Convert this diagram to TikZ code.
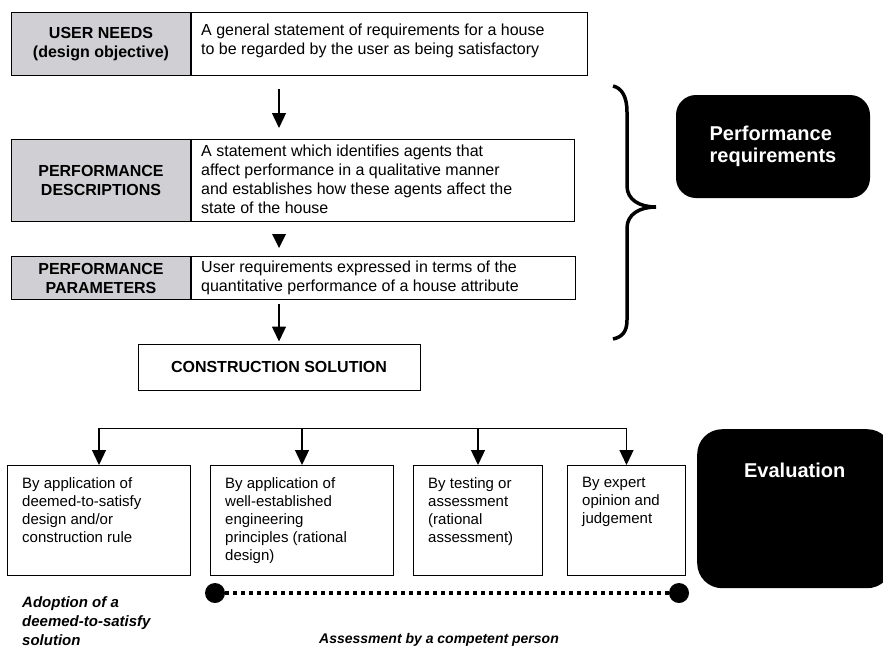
\documentclass[tikz,border=0pt]{standalone}
\usepackage{fontspec}
\setmainfont{Liberation Sans}
\usetikzlibrary{arrows.meta,calc,positioning}

\definecolor{cellgray}{RGB}{208,208,212}

\tikzset{
  graycell/.style={draw, line width=1pt, fill=cellgray, anchor=north west, inner sep=0pt,
    align=center, font=\bfseries\fontsize{16}{19}\selectfont},
  whitecell/.style={draw, line width=1pt, anchor=north west, inner sep=0pt},
  celltext/.style={anchor=west, inner sep=0pt, align=left, font=\fontsize{16}{19}\selectfont},
  choicebox/.style={draw, line width=1pt, anchor=north west, inner sep=0pt, minimum height=110pt},
  choicetext/.style={anchor=north west, inner sep=0pt, align=left, font=\fontsize{15}{18}\selectfont},
  blackbox/.style={fill=black, rounded corners=20pt, inner sep=0pt, text=white,
    font=\bfseries\fontsize{20}{22}\selectfont},
  flowarrow/.style={line width=1.3pt, -{Triangle[width=14pt,length=15pt]}},
  dotend/.style={circle, fill=black, minimum size=20pt, inner sep=0pt},
  italiclabel/.style={inner sep=0pt, align=left, font=\bfseries\itshape\fontsize{15}{19}\selectfont}
}

\begin{document}
\begin{tikzpicture}[x=1pt,y=-1pt]
\useasboundingbox (0,0) rectangle (883,648);

% the three definition rows
\node[graycell, minimum width=179pt, minimum height=63pt] (needs) at (11,12) {USER NEEDS\\(design objective)};
\node[whitecell, minimum width=396pt, minimum height=63pt] (needsbox) at (needs.north east) {};
\node[celltext] (needstext) at ([xshift=10pt,yshift=3pt]needsbox.west)
  {A general statement of requirements for a house\\to be regarded by the user as being satisfactory};

\node[graycell, minimum width=179pt, minimum height=82pt] (descr) at (11,139) {PERFORMANCE\\DESCRIPTIONS};
\node[whitecell, minimum width=383pt, minimum height=82pt] (descrbox) at (descr.north east) {};
\node[celltext] (descrtext) at ([xshift=10pt,yshift=1pt]descrbox.west)
  {A statement which identifies agents that\\affect performance in a qualitative manner\\and establishes how these agents affect the\\state of the house};

\node[graycell, minimum width=179pt, minimum height=43pt] (params) at (11,256) {PERFORMANCE\\PARAMETERS};
\node[whitecell, minimum width=384pt, minimum height=43pt] (paramsbox) at (params.north east) {};
\node[celltext] (paramstext) at ([xshift=10pt]paramsbox.west)
  {User requirements expressed in terms of the\\quantitative performance of a house attribute};

\node[draw, line width=1pt, minimum width=282pt, minimum height=46pt, inner sep=0pt,
  font=\bfseries\fontsize{16}{19}\selectfont] (solution) at (279,367) {CONSTRUCTION SOLUTION};

% arrows down the middle
\draw[flowarrow] ($(needsbox.south -| solution.north)+(0,13)$) -- ($(descrbox.north -| solution.north)+(0,-11)$);
\fill ($(descrbox.south -| solution.north)+(-7,12)$) -- ++(14,0) -- ++(-7,14) -- cycle;
\draw[flowarrow] ($(paramsbox.south -| solution.north)+(0,4)$) -- ($(solution.north)+(0,-2)$);

% brace
\draw[line width=3.5pt] (613,86) .. controls (622,88) and (627,97) .. (627,112) -- (627,186)
  .. controls (627,200) and (640,207) .. (656,207) .. controls (640,207) and (627,214) .. (627,228)
  -- (627,320) .. controls (627,332) and (622,337) .. (613,339);

\node[blackbox, minimum width=194pt, minimum height=103pt, align=left] (perfreq) at (773,146.5)
  {Performance\\requirements};

% evaluation routes
\node[choicebox, minimum width=183pt] (choiceA) at (7,465) {};
\node[choicebox, minimum width=183pt] (choiceB) at (210,465) {};
\node[choicebox, minimum width=129pt] (choiceC) at (413,465) {};
\node[choicebox, minimum width=118pt] (choiceD) at (567,465) {};

\node[choicetext] (choiceAtext) at ([xshift=15pt,yshift=-12pt]choiceA.north west)
  {By application of\\deemed-to-satisfy\\design and/or\\construction rule};
\node[choicetext] (choiceBtext) at ([xshift=15pt,yshift=-12pt]choiceB.north west)
  {By application of\\well-established\\engineering\\principles (rational\\design)};
\node[choicetext] (choiceCtext) at ([xshift=15pt,yshift=-12pt]choiceC.north west)
  {By testing or\\assessment\\(rational\\assessment)};
\node[choicetext] (choiceDtext) at ([xshift=15pt,yshift=-12pt]choiceD.north west)
  {By expert\\opinion and\\judgement};

\coordinate (bus) at (0,428);
\draw[line width=1pt] (choiceA.north |- bus) -- (choiceD.north |- bus);
\draw[flowarrow] (choiceA.north |- bus) -- (choiceA.north);
\draw[flowarrow] (choiceB.north |- bus) -- (choiceB.north);
\draw[flowarrow] (choiceC.north |- bus) -- (choiceC.north);
\draw[flowarrow] (choiceD.north |- bus) -- (choiceD.north);

\node[blackbox, rounded corners=25pt, minimum width=195pt, minimum height=159pt, anchor=north west] (evalbox) at (697,429) {};
\node[below=34pt of evalbox.north, inner sep=0pt, text=white, font=\bfseries\fontsize{20}{22}\selectfont] (evaltext) {Evaluation};

% competent person span
\node[dotend] (dotL) at (215,593) {};
\node[dotend] (dotR) at (679,593) {};
\draw[line width=4pt, dash pattern=on 4pt off 4pt] (dotL) -- (dotR);

\node[italiclabel, anchor=north west] (adoptlabel) at (22,596) {Adoption of a\\deemed-to-satisfy\\solution};
\node[italiclabel, anchor=base west, font=\bfseries\itshape\fontsize{14}{17}\selectfont] (assesslabel) at (319,643)
  {Assessment by a competent person};
\end{tikzpicture}
\end{document}
